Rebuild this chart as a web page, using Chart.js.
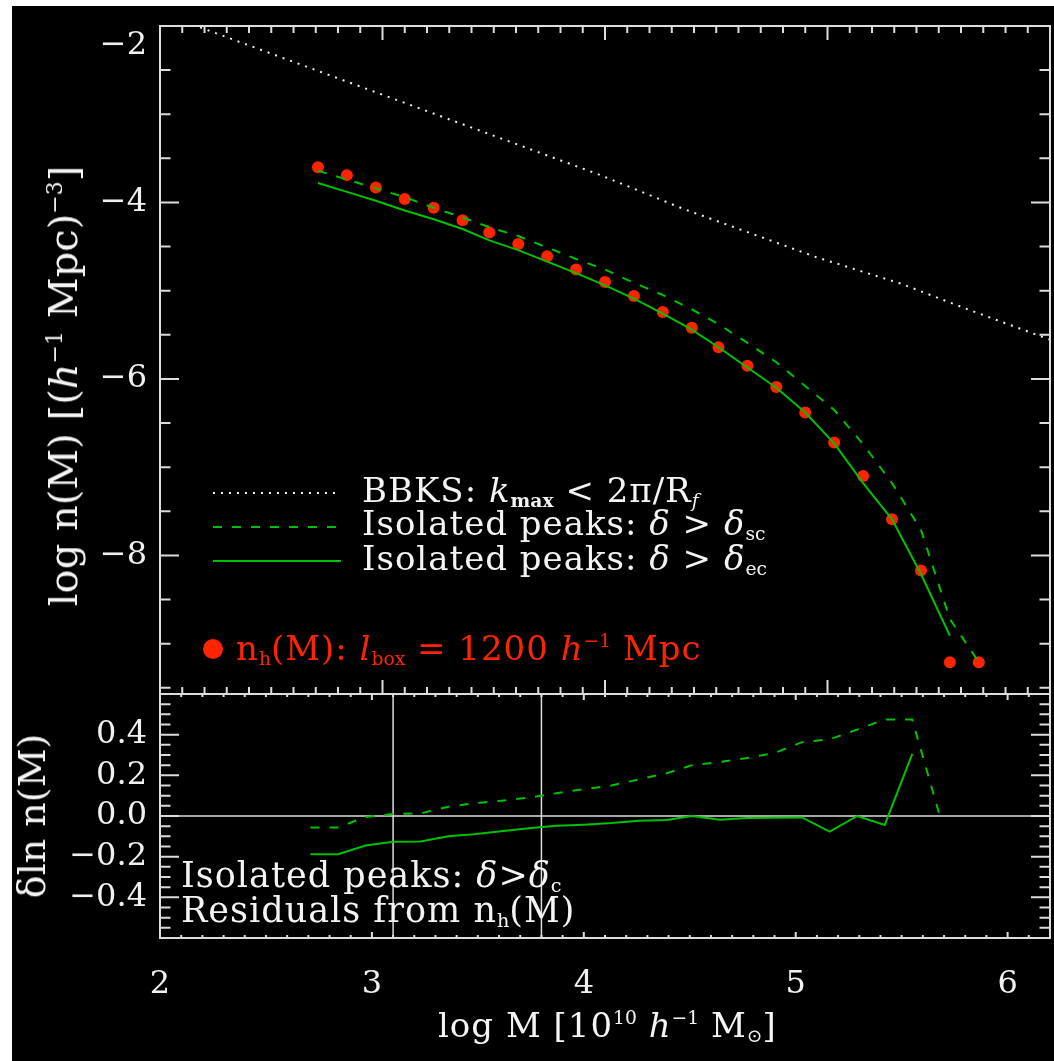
<!DOCTYPE html>
<html><head><meta charset="utf-8">
<script src="https://cdn.jsdelivr.net/npm/chart.js@4.4.1/dist/chart.umd.min.js"></script>
<style>
html,body{margin:0;padding:0;background:#fff;width:1054px;height:1061px;overflow:hidden;}
#bg{position:absolute;left:12px;top:6px;width:1042px;height:1055px;background:#000;}
canvas{position:absolute;left:0;top:0;}
.t{position:absolute;font-family:"DejaVu Serif";color:#f4f4f4;white-space:pre;line-height:1;letter-spacing:1px;}
.t sub{font-size:0.55em;vertical-align:-0.28em;line-height:0;letter-spacing:0;}
.t sup{font-size:0.55em;vertical-align:0.7em;line-height:0;letter-spacing:0;}
.t i{font-style:italic;}
.red{color:#ff2400;}
.rot{transform:translate(-50%,-50%) rotate(-90deg);}
</style></head>
<body>
<div id="bg"></div>
<canvas id="topChart" width="1054" height="1061"></canvas>
<canvas id="botChart" width="1054" height="1061"></canvas>

<div class="t" style="left:362px;top:473px;font-size:34px;">BBKS: <i>k</i><sub><b>max</b></sub> &lt; 2π/R<sub><i>f</i></sub></div>
<div class="t" style="left:362px;top:506px;font-size:34px;">Isolated peaks: <i>δ</i> &gt; <i>δ</i><sub>sc</sub></div>
<div class="t" style="left:362px;top:541px;font-size:34px;">Isolated peaks: <i>δ</i> &gt; <i>δ</i><sub>ec</sub></div>
<div class="t red" style="left:236px;top:631px;font-size:34px;">n<sub>h</sub>(M): <i>l</i><sub>box</sub> = 1200 <i>h</i><sup>−1</sup> Mpc</div>
<div class="t" style="left:181px;top:858px;font-size:35px;">Isolated peaks: <i>δ</i>&gt;<i>δ</i><sub>c</sub></div>
<div class="t" style="left:181px;top:893px;font-size:35px;">Residuals from n<sub>h</sub>(M)</div>
<div class="t" style="left:438px;top:1008px;font-size:34px;">log M [10<sup>10</sup> <i>h</i><sup>−1</sup> M<sub>⊙</sub>]</div>
<div class="t rot" style="left:63px;top:386px;font-size:40px;letter-spacing:0;">log n(M) [(<i>h</i><sup>−1</sup> Mpc)<sup>−3</sup>]</div>
<div class="t rot" style="left:32px;top:816px;font-size:38px;letter-spacing:0;">δln n(M)</div>

<script>
// ---------------- data ----------------
const massBins = [2.71, 2.84, 2.97, 3.10, 3.23, 3.36, 3.48, 3.61, 3.74, 3.87, 4.00, 4.13,
                  4.26, 4.39, 4.51, 4.64, 4.77, 4.90, 5.03, 5.16, 5.29, 5.42, 5.55, 5.68];
const nHalo    = [-3.60, -3.69, -3.83, -3.96, -4.06, -4.20, -4.34, -4.47, -4.61, -4.76, -4.90, -5.06,
                  -5.24, -5.42, -5.64, -5.85, -6.09, -6.38, -6.72, -7.10, -7.59, -8.17, -9.21, -9.21];
const nPeaksSC = [-3.64, -3.74, -3.84, -3.94, -4.06, -4.17, -4.28, -4.38, -4.51, -4.64, -4.76, -4.91,
                  -5.05, -5.21, -5.38, -5.59, -5.81, -6.08, -6.35, -6.74, -7.18, -7.71, -8.72, -9.21];
const nPeaksEC = [-3.78, -3.88, -3.98, -4.09, -4.19, -4.30, -4.43, -4.54, -4.67, -4.80, -4.94, -5.09,
                  -5.26, -5.44, -5.64, -5.87, -6.10, -6.38, -6.73, -7.18, -7.59, -8.21, -8.91, null];
const bbksX    = [2.18, 2.84, 3.98, 4.35, 4.70, 4.95, 5.33, 5.64, 6.00];
const bbksY    = [-2.015, -2.63, -3.69, -4.07, -4.39, -4.62, -4.92, -5.22, -5.555];
const residSC  = [-0.056, -0.056, -0.005, 0.010, 0.013, 0.045, 0.062, 0.075, 0.090, 0.112, 0.132, 0.150,
                  0.180, 0.210, 0.250, 0.265, 0.285, 0.310, 0.363, 0.377, 0.425, 0.474, 0.474, 0.000];
const residEC  = [-0.188, -0.188, -0.145, -0.127, -0.125, -0.100, -0.090, -0.075, -0.060, -0.048, -0.043, -0.035,
                  -0.023, -0.020, 0.000, -0.018, -0.010, -0.008, -0.007, -0.077, 0.000, -0.044, 0.306, null];
const markerLinesX = [3.10, 3.80];
const xTickLabels  = [2, 3, 4, 5, 6];
const yTopTickVals = [-8, -6, -4, -2];
const yBotTickVals = [-0.4, -0.2, 0.0, 0.2, 0.4];

// ---------------- styles ----------------
const RED = '#ff2400', GREEN = '#00c000', WHITE = '#f0f0f0', FRAME = '#dcdcdc';
const FONT = {family: 'DejaVu Serif', size: 32};
const pts = (xs, ys) => xs.map((x, i) => ({x: x, y: ys[i]}));
const minus = s => String(s).replace('-', '\u2212');

function tickList(min, max, step) {
  const out = [];
  const n0 = Math.ceil(min / step - 1e-6), n1 = Math.floor(max / step + 1e-6);
  for (let n = n0; n <= n1; n++) out.push(+(n * step).toFixed(6));
  return out;
}
const isMult = (v, m) => Math.abs(v / m - Math.round(v / m)) < 1e-6;

const frameTicks = {
  id: 'frameTicks',
  afterDatasetsDraw(chart, args, o) {
    const {ctx, chartArea: a, scales} = chart;
    const xs = scales.x, ys = scales.y;
    ctx.save();
    ctx.strokeStyle = FRAME; ctx.lineWidth = 2;
    ctx.beginPath();
    tickList(xs.min, xs.max, o.xMinor).forEach(v => {
      const p = xs.getPixelForValue(v);
      const L = isMult(v, o.xMajor) ? o.xLenMaj : o.xLenMin;
      ctx.moveTo(p, a.bottom); ctx.lineTo(p, a.bottom - L);
      ctx.moveTo(p, a.top); ctx.lineTo(p, a.top + L);
    });
    tickList(ys.min, ys.max, o.yMinor).forEach(v => {
      const p = ys.getPixelForValue(v);
      const L = isMult(v, o.yMajor) ? o.yLenMaj : o.yLenMin;
      ctx.moveTo(a.left, p); ctx.lineTo(a.left + L, p);
      ctx.moveTo(a.right, p); ctx.lineTo(a.right - L, p);
    });
    ctx.stroke();
    ctx.strokeRect(a.left, a.top, a.right - a.left, a.bottom - a.top);
    ctx.restore();
  }
};

const legendSamples = {
  id: 'legendSamples',
  afterDraw(chart, args, o) {
    const ctx = chart.ctx;
    ctx.save();
    o.items.forEach(it => {
      const ds = chart.data.datasets[it.ds];
      if (it.dot) {
        ctx.fillStyle = ds.backgroundColor;
        ctx.beginPath(); ctx.arc(it.x1, it.y, it.r, 0, Math.PI * 2); ctx.fill();
      } else {
        ctx.strokeStyle = ds.borderColor; ctx.lineWidth = ds.borderWidth;
        ctx.setLineDash(ds.borderDash || []);
        ctx.beginPath(); ctx.moveTo(it.x1, it.y); ctx.lineTo(it.x2, it.y); ctx.stroke();
      }
    });
    ctx.restore();
  }
};

const fixW = w => s => { s.width = w; s.paddingTop = 0; s.paddingBottom = 0; };
const fixH = h => s => { s.height = h; s.paddingLeft = 0; s.paddingRight = 0; };

// ---------------- top panel ----------------
new Chart(document.getElementById('topChart'), {
  type: 'scatter',
  data: {datasets: [
    {label: 'BBKS', data: pts(bbksX, bbksY), showLine: true, borderColor: WHITE, borderWidth: 2,
     borderDash: [2, 6], pointRadius: 0, order: 1},
    {label: 'sc', data: pts(massBins, nPeaksSC), showLine: true, borderColor: GREEN, borderWidth: 2,
     borderDash: [9, 10], pointRadius: 0, order: 1},
    {label: 'ec', data: pts(massBins, nPeaksEC), showLine: true, borderColor: GREEN, borderWidth: 2,
     pointRadius: 0, order: 1},
    {label: 'nh', data: pts(massBins, nHalo), showLine: false, backgroundColor: RED, borderWidth: 0,
     pointRadius: 6, pointStyle: 'circle', order: 2}
  ]},
  options: {
    responsive: false, animation: false, devicePixelRatio: 1,
    layout: {padding: {left: 0, top: 26, right: 4, bottom: 367}, autoPadding: false},
    plugins: {
      legend: {display: false}, tooltip: {enabled: false},
      frameTicks: {xMinor: 0.1, xMajor: 1, xLenMaj: 14, xLenMin: 7, yMinor: 0.5, yMajor: 2, yLenMaj: 19, yLenMin: 10.5},
      legendSamples: {items: [
        {ds: 0, x1: 213, x2: 341, y: 493},
        {ds: 1, x1: 213, x2: 341, y: 527},
        {ds: 2, x1: 213, x2: 341, y: 561},
        {ds: 3, dot: true, x1: 213, y: 649, r: 10}
      ]}
    },
    scales: {
      x: {type: 'linear', min: 2, max: 6, display: false},
      y: {type: 'linear', min: -9.57, max: -2, position: 'left',
          afterFit: fixW(160),
          afterBuildTicks: s => { s.ticks = yTopTickVals.map(v => ({value: v})); },
          grid: {display: false, drawTicks: false}, border: {display: false},
          ticks: {color: WHITE, font: FONT, padding: 13,
                  callback: v => v === -2 ? ['', minus(v)] : minus(v)}}
    }
  },
  plugins: [frameTicks, legendSamples]
});

// ---------------- residual panel ----------------
new Chart(document.getElementById('botChart'), {
  type: 'scatter',
  data: {datasets: [
    {label: 'zero', data: [{x: 2, y: 0}, {x: 6.2, y: 0}], showLine: true, borderColor: FRAME, borderWidth: 1.5, pointRadius: 0, order: 3},
    {label: 'm1', data: [{x: markerLinesX[0], y: -0.6}, {x: markerLinesX[0], y: 0.6}], showLine: true, borderColor: FRAME, borderWidth: 1.5, pointRadius: 0, order: 3},
    {label: 'm2', data: [{x: markerLinesX[1], y: -0.6}, {x: markerLinesX[1], y: 0.6}], showLine: true, borderColor: FRAME, borderWidth: 1.5, pointRadius: 0, order: 3},
    {label: 'rsc', data: pts(massBins, residSC), showLine: true, borderColor: GREEN, borderWidth: 2, borderDash: [9, 10], pointRadius: 0, order: 1},
    {label: 'rec', data: pts(massBins, residEC), showLine: true, borderColor: GREEN, borderWidth: 2, pointRadius: 0, order: 1}
  ]},
  options: {
    responsive: false, animation: false, devicePixelRatio: 1,
    layout: {padding: {left: 0, top: 694, right: 4, bottom: 0}, autoPadding: false},
    plugins: {
      legend: {display: false}, tooltip: {enabled: false},
      frameTicks: {xMinor: 0.1, xMajor: 1, xLenMaj: 6, xLenMin: 3, yMinor: 0.05, yMajor: 0.2, yLenMaj: 19, yLenMin: 10.5}
    },
    scales: {
      x: {type: 'linear', min: 2, max: 6.2, position: 'bottom',
          afterFit: fixH(123),
          afterBuildTicks: s => { s.ticks = xTickLabels.map(v => ({value: v})); },
          grid: {display: false, drawTicks: false}, border: {display: false},
          ticks: {color: WHITE, font: FONT, padding: 27, maxRotation: 0, callback: v => String(v)}},
      y: {type: 'linear', min: -0.6, max: 0.6, position: 'left',
          afterFit: fixW(160),
          afterBuildTicks: s => { s.ticks = yBotTickVals.map(v => ({value: v})); },
          grid: {display: false, drawTicks: false}, border: {display: false},
          ticks: {color: WHITE, font: FONT, padding: 13, callback: v => minus(v.toFixed(1))}}
    }
  },
  plugins: [frameTicks]
});
</script>
</body></html>
